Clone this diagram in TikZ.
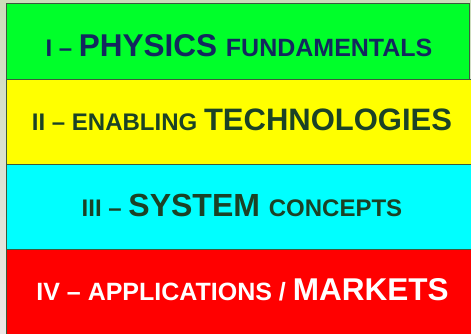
\documentclass[tikz,border=0pt]{standalone}
\usepackage{fontspec}
\setmainfont{Liberation Sans}
\definecolor{bgtop}{HTML}{CCDDBB}
\definecolor{bgbot}{HTML}{EDE7E7}
\definecolor{bandgreen}{HTML}{00FF2A}
\definecolor{bandyellow}{HTML}{FFFF00}
\definecolor{bandcyan}{HTML}{00FFFF}
\definecolor{bandred}{HTML}{FF0000}
\definecolor{navytext}{HTML}{13285E}
\definecolor{greentext}{HTML}{1B4226}
\definecolor{edgecol}{HTML}{3C5A3C}
\begin{document}
\begin{tikzpicture}[x=1pt,y=-1pt,
  band/.style={draw=edgecol, line width=1pt, inner sep=0pt, anchor=north west},
  label/.style={font=\bfseries, inner sep=0pt}]
\useasboundingbox (0,0) rectangle (471,333);
\shade[top color=bgtop, bottom color=bgbot] (0,0) rectangle (471,333);
\node[band, fill=bandgreen, minimum width=463pt, minimum height=76pt] (phys) at (6,3) {};
\node[band, fill=bandyellow, minimum width=465pt, minimum height=85pt] (tech) at (6,79) {};
\node[band, fill=bandcyan, minimum width=465pt, minimum height=85pt] (sys) at (6,164) {};
\node[band, fill=bandred, minimum width=466pt, minimum height=86pt] (app) at (6,249) {};
\node[label, text=navytext] (physt) at ([xshift=1pt,yshift=-4pt]phys.center)
  {\fontsize{24}{24}\selectfont I – \fontsize{31.5}{31.5}\selectfont PHYSICS \fontsize{25}{25}\selectfont FUNDAMENTALS};
\node[label, text=greentext] (techt) at ([xshift=3pt,yshift=2pt]tech.center)
  {\fontsize{24}{24}\selectfont II – ENABLING \fontsize{31}{31}\selectfont TECHNOLOGIES};
\node[label, text=greentext] (syst) at ([xshift=3pt,yshift=2pt]sys.center)
  {\fontsize{24}{24}\selectfont III – \fontsize{32}{32}\selectfont SYSTEM \fontsize{24}{24}\selectfont CONCEPTS};
\node[label, text=white] (appt) at ([xshift=3pt,yshift=3pt]app.center)
  {\fontsize{25}{25}\selectfont IV – APPLICATIONS / \fontsize{31.5}{31.5}\selectfont MARKETS};
\end{tikzpicture}
\end{document}
